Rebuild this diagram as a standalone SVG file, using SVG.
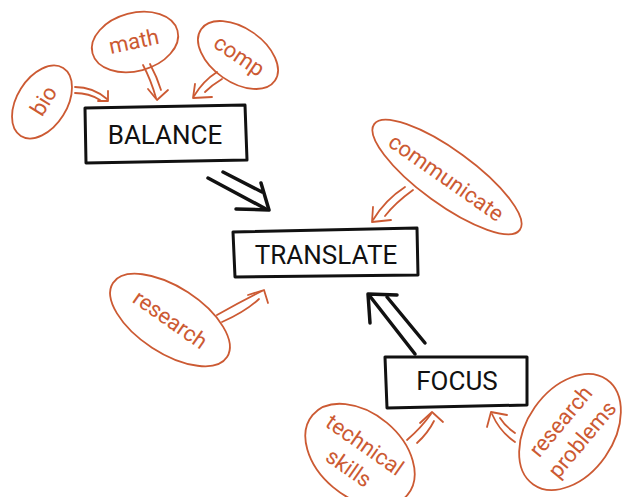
<svg xmlns="http://www.w3.org/2000/svg" width="625" height="497" viewBox="0 0 625 497">
<style>
.box{fill:#fff;stroke:#111;stroke-width:3;stroke-linejoin:round}
.btxt{font-family:Roboto,"Liberation Sans",sans-serif;font-size:26px;fill:#111;text-anchor:middle}
.oval{fill:none;stroke:#cc5a33;stroke-width:1.8}
.otxt{font-family:Roboto,"Liberation Sans",sans-serif;font-size:22px;fill:#cc5a33;text-anchor:middle}
.oarr{fill:none;stroke:#cc5a33;stroke-width:1.8;stroke-linecap:round;stroke-linejoin:round}
.barr{fill:none;stroke:#111;stroke-width:3.5;stroke-linecap:round;stroke-linejoin:round}
</style>
<rect width="625" height="497" fill="#fff"/>
<g id="connectors">
<g id="c-bio">
<path class="oarr" d="M75,87 Q93,87 107,99"/>
<path class="oarr" d="M75,93 Q89,93 100,100"/>
<path class="oarr" d="M108,91 L108,101 L98,101"/>
</g>
<g id="c-math">
<path class="oarr" d="M143,65 Q151,80 156,98"/>
<path class="oarr" d="M150,64 Q157,77 161,90"/>
<path class="oarr" d="M148,89 L157,100 L168,90"/>
</g>
<g id="c-comp">
<path class="oarr" d="M217,72 Q203,81 194,96"/>
<path class="oarr" d="M222,79 Q212,85 205,92"/>
<path class="oarr" d="M195,84 L193,98 L212,97"/>
</g>
<g id="c-communicate">
<path class="oarr" d="M405,187 Q385,200 373,220"/>
<path class="oarr" d="M413,190 Q395,203 385,216"/>
<path class="oarr" d="M373,207 L372,222 L391,220"/>
</g>
<g id="c-research">
<path class="oarr" d="M217,315 Q240,302 262,291"/>
<path class="oarr" d="M222,322 Q245,312 259,299"/>
<path class="oarr" d="M248,295 L264,290 L268,303"/>
</g>
<g id="c-technical">
<path class="oarr" d="M407,440 Q421,428 431,414"/>
<path class="oarr" d="M417,443 Q428,433 434,421"/>
<path class="oarr" d="M420,423 L432,412 L443,422"/>
</g>
<g id="c-problems">
<path class="oarr" d="M515,442 Q500,432 492,414"/>
<path class="oarr" d="M515,433 Q505,426 500,418"/>
<path class="oarr" d="M487,427 L491,412 L507,415"/>
</g>
<g id="c-balance">
<path class="barr" d="M208,178 L266,209"/>
<path class="barr" d="M223,172 L262,192"/>
<path class="barr" d="M261,183 L269,210 L236,209"/>
</g>
<g id="c-focus">
<path class="barr" d="M369,295 L415,354"/>
<path class="barr" d="M387,297 L425,343"/>
<path class="barr" d="M370,323 L368,294 L397,295"/>
</g>
</g>
<g id="n-bio">
<ellipse class="oval" cx="42" cy="102" rx="40" ry="25" transform="rotate(-58 42 102)"/>
<text class="otxt" transform="translate(44,101) rotate(-58)" y="7">bio</text>
</g>
<g id="n-math">
<ellipse class="oval" cx="135" cy="42" rx="44" ry="29" transform="rotate(-15 135 42)"/>
<text class="otxt" transform="translate(134,42) rotate(-12)" y="7">math</text>
</g>
<g id="n-comp">
<ellipse class="oval" cx="238" cy="55" rx="45" ry="27" transform="rotate(35 238 55)"/>
<text class="otxt" transform="translate(239,56) rotate(34)" y="7">comp</text>
</g>
<g id="n-communicate">
<ellipse class="oval" cx="447" cy="177" rx="90" ry="27" transform="rotate(36 447 177)"/>
<text class="otxt" transform="translate(446,178) rotate(35)" y="7">communicate</text>
</g>
<g id="n-research">
<ellipse class="oval" cx="170" cy="320" rx="68" ry="33" transform="rotate(33 170 320)"/>
<text class="otxt" transform="translate(170,320) rotate(35)" y="7">research</text>
</g>
<g id="n-technical">
<ellipse class="oval" cx="360" cy="455" rx="62" ry="42" transform="rotate(40 360 455)"/>
<g transform="translate(357,456) rotate(35)">
<text class="otxt" y="-6">technical</text>
<text class="otxt" y="22">skills</text>
</g>
</g>
<g id="n-problems">
<ellipse class="oval" cx="570" cy="432" rx="64" ry="43" transform="rotate(-55 570 432)"/>
<g transform="translate(571,430) rotate(-50)">
<text class="otxt" y="-6">research</text>
<text class="otxt" y="22">problems</text>
</g>
</g>
<g id="n-balance">
<path class="box" d="M85,108 L245,105 L247,160 L86,163 Z"/>
<text class="btxt" x="165" y="144">BALANCE</text>
</g>
<g id="n-translate">
<path class="box" d="M233,232 L417,228 L418,275 L235,277 Z"/>
<text class="btxt" x="326" y="264">TRANSLATE</text>
</g>
<g id="n-focus">
<path class="box" d="M385,357 L527,357 L527,405 L387,408 Z"/>
<text class="btxt" x="457" y="390">FOCUS</text>
</g>
</svg>
